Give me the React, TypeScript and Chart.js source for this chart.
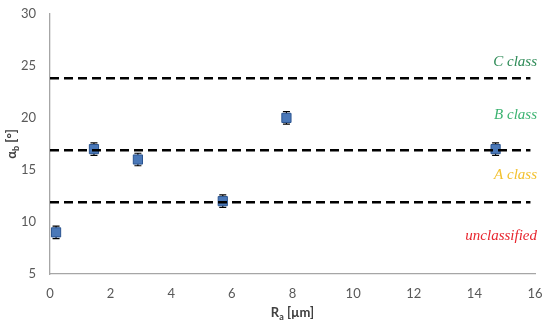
import React, { useEffect, useRef } from "react";
import { Chart, registerables } from "chart.js";
Chart.register(...registerables);

const raValues = [0.2, 1.45, 2.9, 5.7, 7.8, 14.7];
const alphaValues = [9, 17, 16, 12, 20, 17];
const alphaErrors = [0.6, 0.6, 0.6, 0.6, 0.6, 0.6];
const thresholds = [11.9, 16.9, 23.8];
const thresholdXRange = [0, 15.85];
const classNames = ["unclassified", "A class", "B class", "C class"];
const classLabelY = [8.6, 14.55, 20.25, 25.35];
const classColors = ["#e8262f", "#f2c12e", "#3cb371", "#2e8b57"];
const xTicks = [0, 16, 2];
const yTicks = [5, 30, 5];

const TICK_FONT = "Lato, 'Open Sans', sans-serif";

function drawSubTitle(ctx: CanvasRenderingContext2D, main: string, sub: string, rest: string, x: number, y: number, rotate: boolean) {
  ctx.save();
  ctx.translate(x, y);
  if (rotate) ctx.rotate(-Math.PI / 2);
  ctx.fillStyle = "#404040";
  const big = "bold 13px " + TICK_FONT;
  const small = "bold 9px " + TICK_FONT;
  ctx.font = big;
  const w1 = ctx.measureText(main).width;
  const w3 = ctx.measureText(rest).width;
  ctx.font = small;
  const w2 = ctx.measureText(sub).width;
  const total = w1 + w2 + w3;
  let cx = -total / 2;
  ctx.textBaseline = "middle";
  ctx.textAlign = "left";
  ctx.font = big;
  ctx.fillText(main, cx, 0);
  cx += w1;
  ctx.font = small;
  ctx.fillText(sub, cx, 4);
  cx += w2;
  ctx.font = big;
  ctx.fillText(rest, cx, 0);
  ctx.restore();
}

const overlayPlugin = {
  id: "overlay",
  beforeDatasetsDraw(chart: any) {
    const ctx = chart.ctx;
    const xs = chart.scales.x;
    const ys = chart.scales.y;
    ctx.save();
    ctx.strokeStyle = "#000";
    ctx.lineWidth = 1.2;
    raValues.forEach((r, i) => {
      const px = xs.getPixelForValue(r);
      const top = ys.getPixelForValue(alphaValues[i] + alphaErrors[i]);
      const bot = ys.getPixelForValue(alphaValues[i] - alphaErrors[i]);
      ctx.beginPath();
      ctx.moveTo(px, top);
      ctx.lineTo(px, bot);
      ctx.moveTo(px - 3.5, top);
      ctx.lineTo(px + 3.5, top);
      ctx.moveTo(px - 3.5, bot);
      ctx.lineTo(px + 3.5, bot);
      ctx.stroke();
    });
    ctx.restore();
  },
  afterDraw(chart: any) {
    const ctx = chart.ctx;
    const xs = chart.scales.x;
    const ys = chart.scales.y;
    const area = chart.chartArea;
    ctx.save();
    ctx.font = "italic 15px 'Liberation Serif', serif";
    ctx.textAlign = "right";
    ctx.textBaseline = "middle";
    classNames.forEach((name, i) => {
      ctx.fillStyle = classColors[i];
      ctx.fillText(name, xs.getPixelForValue(16) + 2, ys.getPixelForValue(classLabelY[i]));
    });
    ctx.restore();
    drawSubTitle(ctx, "R", "a", " [µm]", (area.left + area.right) / 2, 313, false);
    drawSubTitle(ctx, "α", "b", " [°]", 12, (area.top + area.bottom) / 2, true);
  },
};

export default function App() {
  const ref = useRef<HTMLCanvasElement | null>(null);
  useEffect(() => {
    if (!ref.current) return;
    const thresholdSets = thresholds.map((t) => ({
      type: "line" as const,
      data: [
        { x: thresholdXRange[0], y: t },
        { x: thresholdXRange[1], y: t },
      ],
      borderColor: "#000",
      borderWidth: 2.5,
      borderDash: [9, 5],
      pointRadius: 0,
      fill: false,
      showLine: true,
    }));
    const chart = new Chart(ref.current, {
      type: "scatter",
      data: {
        datasets: [
          ...thresholdSets,
          {
            type: "scatter",
            data: raValues.map((r, i) => ({ x: r, y: alphaValues[i] })),
            pointStyle: "rect",
            pointRadius: 6.5,
            backgroundColor: "#4a78b8",
            borderColor: "#2b5490",
            borderWidth: 1,
          },
        ] as any,
      },
      options: {
        animation: false,
        responsive: false,
        maintainAspectRatio: false,
        layout: { padding: { top: 10, right: 15, left: 0, bottom: 0 } },
        plugins: { legend: { display: false }, tooltip: { enabled: false }, title: { display: false } },
        scales: {
          x: {
            type: "linear",
            min: xTicks[0],
            max: xTicks[1],
            ticks: { stepSize: xTicks[2], color: "#595959", font: { size: 13, family: TICK_FONT }, padding: 4 },
            grid: { display: false },
            border: { display: true, color: "#a6a6a6", width: 1.3 },
            afterFit: (s: any) => { s.height = 53; },
          },
          y: {
            type: "linear",
            min: yTicks[0],
            max: yTicks[1],
            ticks: { stepSize: yTicks[2], color: "#595959", font: { size: 13, family: TICK_FONT }, padding: 6 },
            grid: { display: false },
            border: { display: true, color: "#a6a6a6", width: 1.3 },
            afterFit: (s: any) => { s.width = 50; },
          },
        },
      },
      plugins: [overlayPlugin],
    } as any);
    return () => chart.destroy();
  }, []);
  return (
    <div style={{ position: "fixed", left: 0, top: 0, width: 550, height: 327, background: "#fff" }}>
      <canvas ref={ref} width={550} height={327} style={{ width: 550, height: 327 }} />
    </div>
  );
}
